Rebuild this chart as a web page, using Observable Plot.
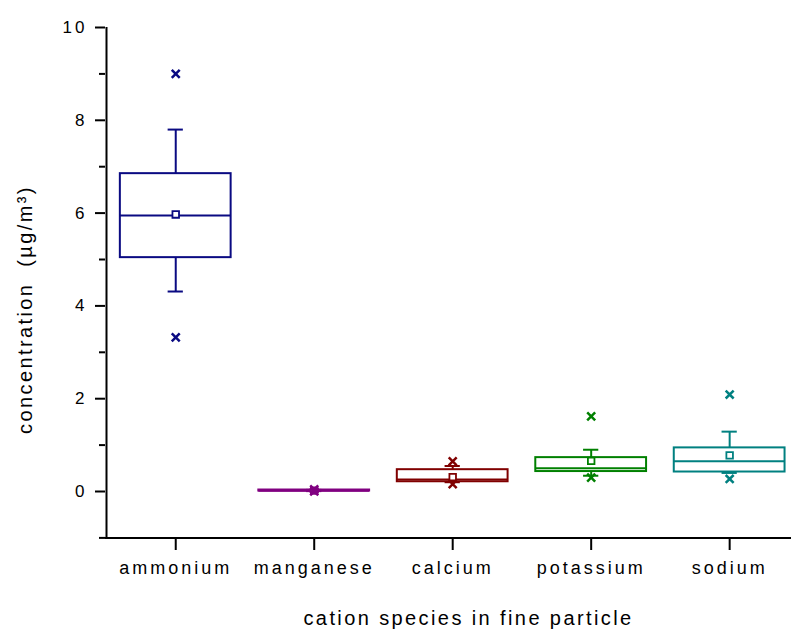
<!DOCTYPE html>
<html>
<head>
<meta charset="utf-8">
<script src="https://cdn.jsdelivr.net/npm/d3@7"></script>
<script src="https://cdn.jsdelivr.net/npm/@observablehq/plot@0.6"></script>
<style>
  html, body { margin: 0; padding: 0; background: #fff; }
</style>
</head>
<body>
<div id="chart"></div>
<script>
// ---- data ----
const categories = ["ammonium", "manganese", "calcium", "potassium", "sodium"];
const colors     = ["#0a0a82", "#800080", "#800000", "#008000", "#008080"];
const q1         = [5.04, 0.010, 0.21, 0.43, 0.42];
const median     = [5.95, 0.018, 0.26, 0.50, 0.65];
const q3         = [6.85, 0.032, 0.47, 0.73, 0.94];
const mean       = [5.97, 0.020, 0.31, 0.66, 0.78];
const whiskerLow = [4.31, 0.008, 0.20, 0.34, 0.40];
const whiskerHigh= [7.80, 0.035, 0.55, 0.90, 1.29];
const maxVal     = [9.00, 0.045, 0.65, 1.62, 2.09];
const minVal     = [3.32, 0.000, 0.16, 0.30, 0.27];
const yMajorTicks = [0, 2, 4, 6, 8, 10];
const yMinorTicks = [-1, 1, 3, 5, 7, 9];
const xTitle = "cation species in fine particle";
const yTitle = "concentration  (µg/m³)";

const rows = categories.map((c, k) => ({
  cat: c, i: k + 1, color: colors[k],
  q1: q1[k], median: median[k], q3: q3[k], mean: mean[k],
  wl: whiskerLow[k], wh: whiskerHigh[k], mx: maxVal[k], mn: minVal[k]
}));
const outliers = rows.flatMap(d => [{i: d.i, v: d.mx, color: d.color}, {i: d.i, v: d.mn, color: d.color}]);

const half = 0.4, cap = 0.055;

const chart = Plot.plot({
  width: 791,
  height: 630,
  marginTop: 27,
  marginBottom: 93,
  marginLeft: 105,
  marginRight: 0,
  style: "font-family: 'Liberation Sans', Arial, sans-serif; letter-spacing: 3px; background: #fff; color: #000;",
  x: {type: "linear", domain: [0.5, 5.5], range: [106, 798.4]},
  y: {type: "linear", domain: [-1, 10], range: [537.4, 27]},
  color: {type: "identity"},
  marks: [
    // boxes
    Plot.rect(rows, {x1: d => d.i - half, x2: d => d.i + half, y1: "q1", y2: "q3", fill: "none", stroke: "color", strokeWidth: 2}),
    Plot.ruleY(rows, {y: "median", x1: d => d.i - half, x2: d => d.i + half, stroke: "color", strokeWidth: 2}),
    // whiskers
    Plot.ruleX(rows, {x: "i", y1: "q3", y2: "wh", stroke: "color", strokeWidth: 2}),
    Plot.ruleX(rows, {x: "i", y1: "q1", y2: "wl", stroke: "color", strokeWidth: 2}),
    Plot.ruleY(rows, {y: "wh", x1: d => d.i - cap, x2: d => d.i + cap, stroke: "color", strokeWidth: 2}),
    Plot.ruleY(rows, {y: "wl", x1: d => d.i - cap, x2: d => d.i + cap, stroke: "color", strokeWidth: 2}),
    // mean
    Plot.dot(rows, {x: "i", y: "mean", symbol: "square", r: 3.7, fill: "white", stroke: "color", strokeWidth: 1.8}),
    // min / max
    Plot.dot(outliers, {x: "i", y: "v", symbol: "times", r: 3.7, stroke: "color", strokeWidth: 2.5}),
    // axes
    Plot.axisY({ticks: yMinorTicks, tickSize: 6, tickFormat: () => "", strokeWidth: 2, label: null}),
    Plot.axisY({ticks: yMajorTicks, tickSize: 10, tickPadding: 8, fontSize: 17, strokeWidth: 2, label: null}),
    Plot.axisX({ticks: [1, 2, 3, 4, 5], tickFormat: v => categories[v - 1], tickSize: 13, tickPadding: 11, fontSize: 18, strokeWidth: 2, label: null}),
    Plot.ruleX([0.5], {strokeWidth: 2}),
    Plot.ruleY([-1], {strokeWidth: 2}),
    // titles
    Plot.text([xTitle], {text: d => d, frameAnchor: "bottom", textAnchor: "middle", dx: 20, dy: 87, lineAnchor: "bottom", fontSize: 20, style: "letter-spacing: 2.4px"}),
    Plot.text([yTitle], {text: d => d, frameAnchor: "left", textAnchor: "middle", rotate: -90, dx: -74, dy: 27, lineAnchor: "bottom", fontSize: 20})
  ]
});
chart.querySelectorAll("text").forEach(t => {
  if (t.textContent === xTitle || t.textContent === yTitle) t.setAttribute("letter-spacing", "2.4px");
});
document.getElementById("chart").appendChild(chart);
</script>
</body>
</html>
